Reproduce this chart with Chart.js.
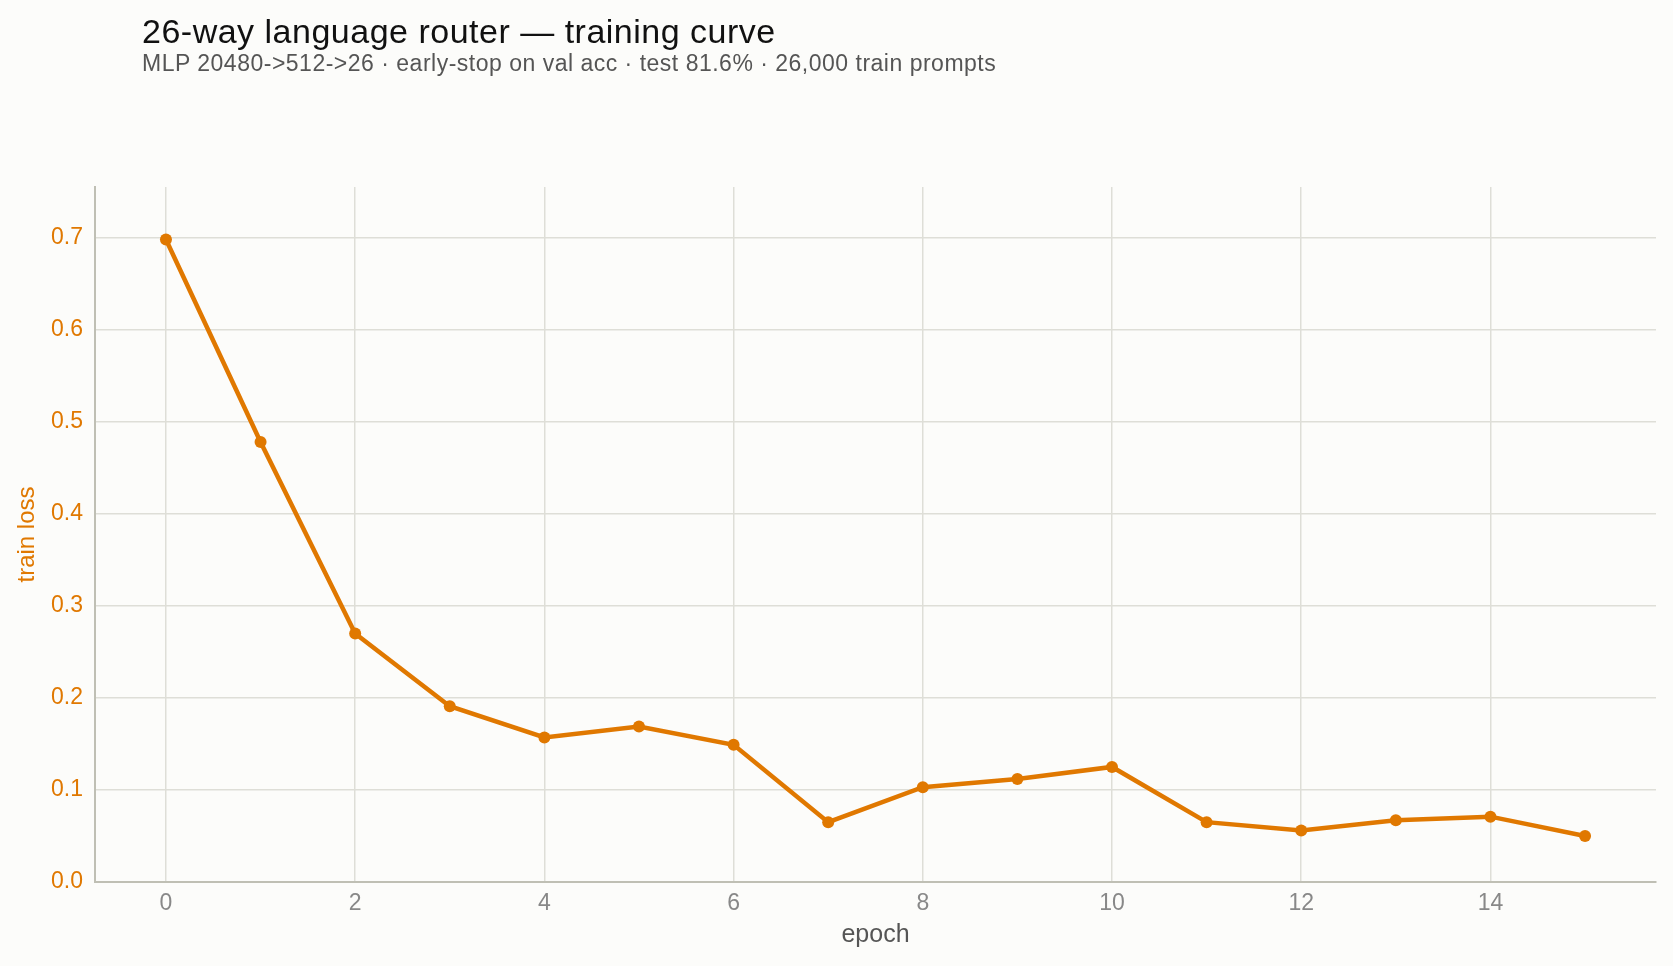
<!DOCTYPE html>
<html>
<head>
<meta charset="utf-8">
<script src="https://cdn.jsdelivr.net/npm/chart.js@4"></script>
<style>
  html, body { margin: 0; padding: 0; background: #fcfcfa; }
  #wrap { position: relative; width: 1673px; height: 966px; }
  #title { position: absolute; left: 142px; top: 14px; font-family: "Liberation Sans", Arial, sans-serif; font-size: 34px; line-height: 1; letter-spacing: 0.5px; color: #111; white-space: nowrap; }
  #subtitle { position: absolute; left: 142px; top: 52px; font-family: "Liberation Sans", Arial, sans-serif; font-size: 23px; line-height: 1; letter-spacing: 0.5px; color: #555; white-space: nowrap; }
  canvas { position: absolute; left: 0; top: 0; }
</style>
</head>
<body>
<div id="wrap">
  <canvas id="c" width="1673" height="966"></canvas>
  <div id="title">26-way language router — training curve</div>
  <div id="subtitle">MLP 20480-&gt;512-&gt;26 · early-stop on val acc · test 81.6% · 26,000 train prompts</div>
</div>
<script>
const epochs = [0,1,2,3,4,5,6,7,8,9,10,11,12,13,14,15];
const trainLoss = [0.698,0.478,0.270,0.191,0.157,0.169,0.149,0.065,0.103,0.112,0.125,0.065,0.056,0.067,0.071,0.050];
const xTicks = [0,2,4,6,8,10,12,14];
const yTicks = [0.0,0.1,0.2,0.3,0.4,0.5,0.6,0.7];

const ORANGE = '#e07800';
const FONT = '"Liberation Sans", Arial, sans-serif';

new Chart(document.getElementById('c'), {
  type: 'line',
  data: {
    datasets: [{
      label: 'train loss',
      data: epochs.map((e, i) => ({ x: e, y: trainLoss[i] })),
      borderColor: ORANGE,
      backgroundColor: ORANGE,
      borderWidth: 4.5,
      pointRadius: 6,
      pointHoverRadius: 6,
      pointBackgroundColor: ORANGE,
      pointBorderWidth: 0,
      tension: 0,
      fill: false
    }]
  },
  options: {
    responsive: false,
    animation: false,
    devicePixelRatio: 1,
    layout: { padding: { left: 0, top: 187, right: 17, bottom: 0 } },
    plugins: { legend: { display: false }, tooltip: { enabled: false }, title: { display: false } },
    scales: {
      x: {
        type: 'linear',
        min: -0.75,
        max: 15.75,
        afterBuildTicks: s => { s.ticks = xTicks.map(v => ({ value: v })); },
        afterFit: s => { s.height = 84; },
        grid: { color: '#deded7', lineWidth: 1.5, drawTicks: false },
        border: { display: true, color: '#bfbfb4', width: 2 },
        ticks: { color: '#888', font: { family: FONT, size: 23 }, padding: 8, callback: v => String(v) },
        title: { display: true, text: 'epoch', color: '#555', font: { family: FONT, size: 25 }, padding: { top: 0, bottom: 16 } }
      },
      y: {
        type: 'linear',
        min: 0,
        max: 0.755,
        afterBuildTicks: s => { s.ticks = yTicks.map(v => ({ value: v })); },
        afterFit: s => { s.width = 95; },
        grid: { color: '#deded7', lineWidth: 1.5, drawTicks: false },
        border: { display: true, color: '#bfbfb4', width: 2 },
        ticks: { color: ORANGE, font: { family: FONT, size: 23 }, padding: 12, callback: v => Number(v).toFixed(1) },
        title: { display: true, text: 'train loss', color: ORANGE, font: { family: FONT, size: 24 }, padding: { top: 13, bottom: 0 } }
      }
    }
  }
});
</script>
</body>
</html>
